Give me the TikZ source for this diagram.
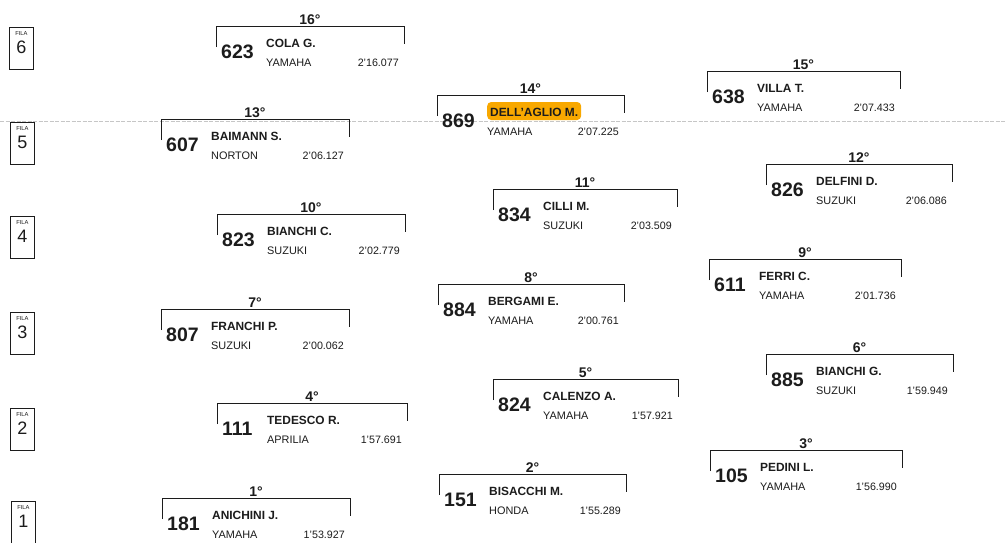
\documentclass[tikz,border=0pt]{standalone}
\usepackage{fontspec}
\setmainfont{Liberation Sans}
\definecolor{ink}{RGB}{28,28,28}
\definecolor{hilite}{RGB}{248,168,0}
\tikzset{
  bracket/.style={draw=ink, line width=0.9pt},
  poslab/.style={anchor=base, inner sep=0pt, text=ink, font=\fontsize{14}{14}\selectfont\bfseries},
  numlab/.style={anchor=base west, inner sep=0pt, text=ink, font=\fontsize{19.5}{19.5}\selectfont\bfseries},
  namelab/.style={anchor=base west, inner sep=0pt, text=ink, font=\fontsize{11.9}{11.9}\selectfont\bfseries},
  hilab/.style={anchor=base west, inner xsep=3pt, inner ysep=0pt, text height=14pt, text depth=4pt,
     fill=hilite, rounded corners=4pt, text=ink, font=\fontsize{11.9}{11.9}\selectfont\bfseries},
  teamlab/.style={anchor=base west, inner sep=0pt, text=ink, font=\fontsize{10.9}{10.9}\selectfont},
  timelab/.style={anchor=base east, inner sep=0pt, text=ink, font=\fontsize{10.7}{10.7}\selectfont},
  filabox/.style={draw=ink, line width=0.9pt, minimum width=24pt, minimum height=42pt, inner sep=0pt},
  filaword/.style={inner sep=0pt, text=ink, font=\fontsize{5.8}{5.8}\selectfont},
  filanum/.style={inner sep=0pt, text=ink, font=\fontsize{18}{18}\selectfont},
  scanline/.style={draw=gray!45, line width=0.6pt, dash pattern=on 4pt off 1.5pt}
}
% #1 name style, #2 position, #3 left, #4 top, #5 width, #6 number, #7 rider, #8 team, #9 time
\newcommand\gridslot[9][namelab]{%
  \begin{scope}[shift={(#3,#4)}]
    \coordinate (p#2L) at (0,21);
    \coordinate (p#2R) at (#5,18);
    \draw[bracket] (p#2L) |- (#5,0) -- (p#2R);
    \node[poslab] (p#2pos) at (#5/2,-2) {#2°};
    \node[numlab] (p#2num) at (5,32) {#6};
    \node[#1] (p#2name) at (50,21) {#7};
    \node[teamlab] (p#2team) at (50,40) {#8};
    \node[timelab] (p#2time) at (#5-5,40) {#9};
  \end{scope}}
\newcommand\filabox[3]{%
  \node[filabox, anchor=north west] (fila#1) at (#2,#3) {};
  \node[filaword] (fila#1w) at ([yshift=-6.5pt]fila#1.north) {FILA};
  \node[filanum] (fila#1n) at ([yshift=-20pt]fila#1.north) {#1};}
\begin{document}
\begin{tikzpicture}[x=1pt,y=-1pt]
\useasboundingbox (0,0) rectangle (1006,542);
\fill[white] (0,0) rectangle (1006,542);
\coordinate (scanA) at (0,121);
\coordinate (scanB) at (1006,121);
\draw[scanline] (scanA) -- (scanB);

\filabox{6}{9}{27}
\filabox{5}{10}{122}
\filabox{4}{10}{216}
\filabox{3}{10}{312}
\filabox{2}{10}{408}
\filabox{1}{11}{501}

\gridslot{16}{216}{26}{188}{623}{COLA G.}{YAMAHA}{2'16.077}
\gridslot[hilab]{14}{437}{95}{187}{869}{DELL'AGLIO M.}{YAMAHA}{2'07.225}
\gridslot{15}{707}{71}{193}{638}{VILLA T.}{YAMAHA}{2'07.433}
\gridslot{13}{161}{119}{188}{607}{BAIMANN S.}{NORTON}{2'06.127}
\gridslot{12}{766}{164}{186}{826}{DELFINI D.}{SUZUKI}{2'06.086}
\gridslot{11}{493}{189}{184}{834}{CILLI M.}{SUZUKI}{2'03.509}
\gridslot{10}{217}{214}{188}{823}{BIANCHI C.}{SUZUKI}{2'02.779}
\gridslot{9}{709}{259}{192}{611}{FERRI C.}{YAMAHA}{2'01.736}
\gridslot{8}{438}{284}{186}{884}{BERGAMI E.}{YAMAHA}{2'00.761}
\gridslot{7}{161}{309}{188}{807}{FRANCHI P.}{SUZUKI}{2'00.062}
\gridslot{6}{766}{354}{187}{885}{BIANCHI G.}{SUZUKI}{1'59.949}
\gridslot{5}{493}{379}{185}{824}{CALENZO A.}{YAMAHA}{1'57.921}
\gridslot{4}{217}{403}{190}{111}{TEDESCO R.}{APRILIA}{1'57.691}
\gridslot{3}{710}{450}{192}{105}{PEDINI L.}{YAMAHA}{1'56.990}
\gridslot{2}{439}{474}{187}{151}{BISACCHI M.}{HONDA}{1'55.289}
\gridslot{1}{162}{498}{188}{181}{ANICHINI J.}{YAMAHA}{1'53.927}
\end{tikzpicture}
\end{document}
